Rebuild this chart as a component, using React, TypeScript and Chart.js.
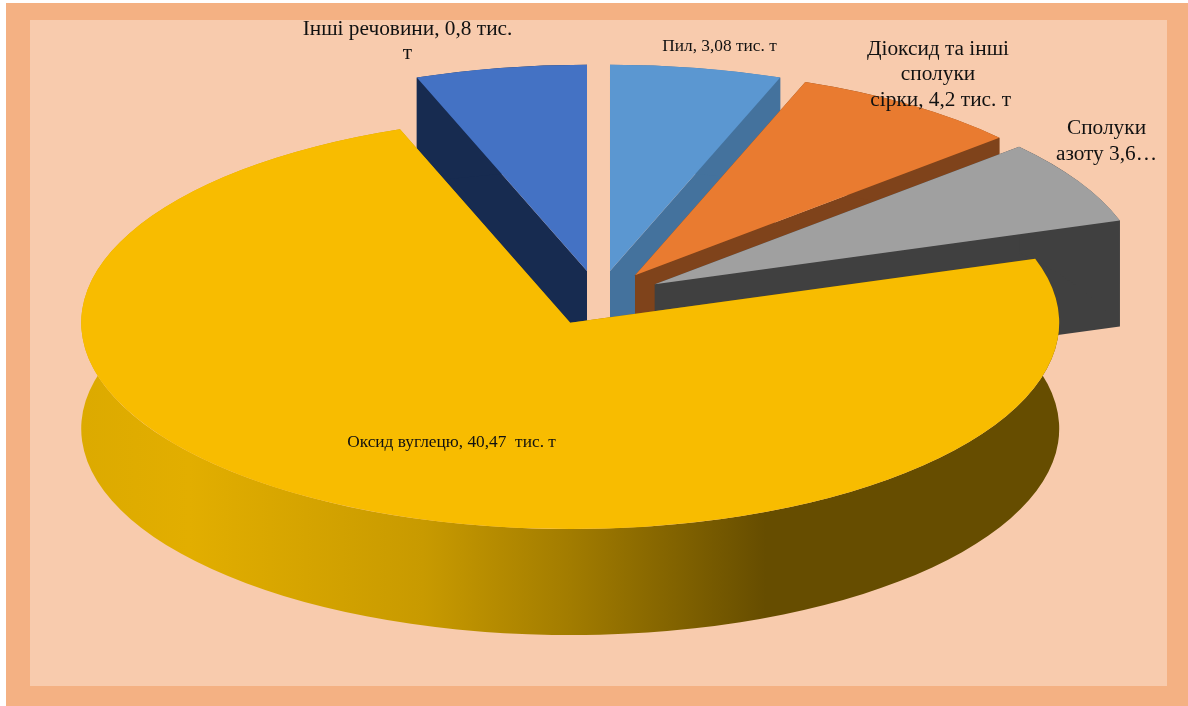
import React, { useEffect, useRef } from "react";
import { Chart, registerables } from "chart.js";

Chart.register(...registerables);

// Slice order starts with "Інші речовини" so that the big slice is painted last.
const categories = [
  "Інші речовини",
  "Пил",
  "Діоксид та інші сполуки сірки",
  "Сполуки азоту",
  "Оксид вуглецю",
];
const values = [3.08, 3.08, 4.2, 3.6, 40.47];
const topColors = ["#4472C4", "#5B97D1", "#E97B30", "#A0A0A0", "#F8BC00"];
const sideColors = ["#172B50", "#44729D", "#7F431B", "#404040", "#E0AD00"];
const labelLines = [
  ["Інші речовини, 0,8 тис.", "т"],
  ["Пил, 3,08 тис. т"],
  ["Діоксид та інші", "сполуки", " сірки, 4,2 тис. т"],
  ["Сполуки", "азоту 3,6…"],
  ["Оксид вуглецю, 40,47  тис. т"],
];

const W = 1188;
const H = 706;
const CX = 598.5;
const CY = 298;
const RADIUS = 489;
const SQUASH = 0.422;
const EXPLODE = 65;
const DEPTH = 106;
const labelBoxes = [
  { x: 407.5, y: 29, size: 21.33, lh: 24 },
  { x: 719.5, y: 46, size: 17.33, lh: 17 },
  { x: 938, y: 49, size: 21.33, lh: 25.5 },
  { x: 1106.5, y: 128, size: 21.33, lh: 26 },
  { x: 451.5, y: 442, size: 17.33, lh: 18 },
];

const toScreenY = (y: number) => CY + (y - CY) * SQUASH;

const pie3d = {
  id: "pie3d",
  // The walls go first, then every Chart.js arc is painted through a squashed,
  // exploded context; returning false skips the flat default drawing.
  beforeDatasetsDraw(chart: any) {
    const ctx = chart.ctx;
    const arcs = chart.getDatasetMeta(0).data;
    arcs.forEach((arc: any, i: number) => {
      const mid = (arc.startAngle + arc.endAngle) / 2;
      const ax = arc.x + Math.cos(mid) * EXPLODE;
      const ay = toScreenY(arc.y + Math.sin(mid) * EXPLODE);
      const r = arc.outerRadius;
      const rimX = (a: number) => ax + Math.cos(a) * r;
      const rimY = (a: number) => ay + Math.sin(a) * r * SQUASH;

      let fill: any = sideColors[i];
      if (i === arcs.length - 1) {
        const g = ctx.createLinearGradient(ax - r, 0, ax + r, 0);
        g.addColorStop(0, "#DCAA00");
        g.addColorStop(0.11, "#E2AE00");
        g.addColorStop(0.35, "#C89A00");
        g.addColorStop(0.5, "#A27C00");
        g.addColorStop(0.7, "#664D00");
        g.addColorStop(1, "#664D00");
        fill = g;
      }
      ctx.fillStyle = fill;
      [arc.startAngle, arc.endAngle].forEach((a: number) => {
        ctx.beginPath();
        ctx.moveTo(ax, ay);
        ctx.lineTo(rimX(a), rimY(a));
        ctx.lineTo(rimX(a), rimY(a) + DEPTH);
        ctx.lineTo(ax, ay + DEPTH);
        ctx.closePath();
        ctx.fill();
      });
      ctx.beginPath();
      ctx.ellipse(ax, ay, r, r * SQUASH, 0, arc.startAngle, arc.endAngle);
      ctx.ellipse(ax, ay + DEPTH, r, r * SQUASH, 0, arc.endAngle, arc.startAngle, true);
      ctx.closePath();
      ctx.fill();
    });
    arcs.forEach((arc: any) => {
      const mid = (arc.startAngle + arc.endAngle) / 2;
      ctx.save();
      ctx.translate(0, CY);
      ctx.scale(1, SQUASH);
      ctx.translate(0, -CY);
      ctx.translate(Math.cos(mid) * EXPLODE, Math.sin(mid) * EXPLODE);
      arc.draw(ctx);
      ctx.restore();
    });
    return false;
  },
  afterDraw(chart: any) {
    const ctx = chart.ctx;
    ctx.save();
    ctx.fillStyle = "#111111";
    ctx.textAlign = "center";
    ctx.textBaseline = "middle";
    labelLines.forEach((lines, i) => {
      const b = labelBoxes[i];
      ctx.font = `${b.size}px "Liberation Serif"`;
      lines.forEach((line, j) => ctx.fillText(line, b.x, b.y + j * b.lh));
    });
    ctx.restore();
  },
};

export default function App() {
  const ref = useRef<HTMLCanvasElement>(null);
  useEffect(() => {
    const chart = new Chart(ref.current as HTMLCanvasElement, {
      type: "pie",
      data: {
        labels: categories,
        datasets: [
          {
            data: values,
            backgroundColor: topColors,
            borderWidth: 0,
            radius: RADIUS,
            clip: false,
          } as any,
        ],
      },
      options: {
        animation: false,
        responsive: false,
        devicePixelRatio: 1,
        rotation: (-values[0] / values.reduce((a, b) => a + b, 0)) * 360,
        layout: {
          padding: { left: 2 * (CX - W / 2), right: 0, top: 0, bottom: H - 2 * CY },
        },
        plugins: { legend: { display: false }, tooltip: { enabled: false }, title: { display: false } },
      },
      plugins: [pie3d],
    } as any);
    return () => chart.destroy();
  }, []);
  return (
    <div style={{ position: "absolute", left: 0, top: 0, width: W, height: H, overflow: "hidden", background: "#FFFFFF" }}>
      <div style={{ position: "absolute", left: 6, top: 3, width: W - 6, height: H - 3, background: "#F4B183" }} />
      <div style={{ position: "absolute", left: 30, top: 20, width: 1137, height: 666, background: "#F8CBAD" }} />
      <canvas ref={ref} width={W} height={H} style={{ position: "absolute", left: 0, top: 0, width: W, height: H }} />
    </div>
  );
}
